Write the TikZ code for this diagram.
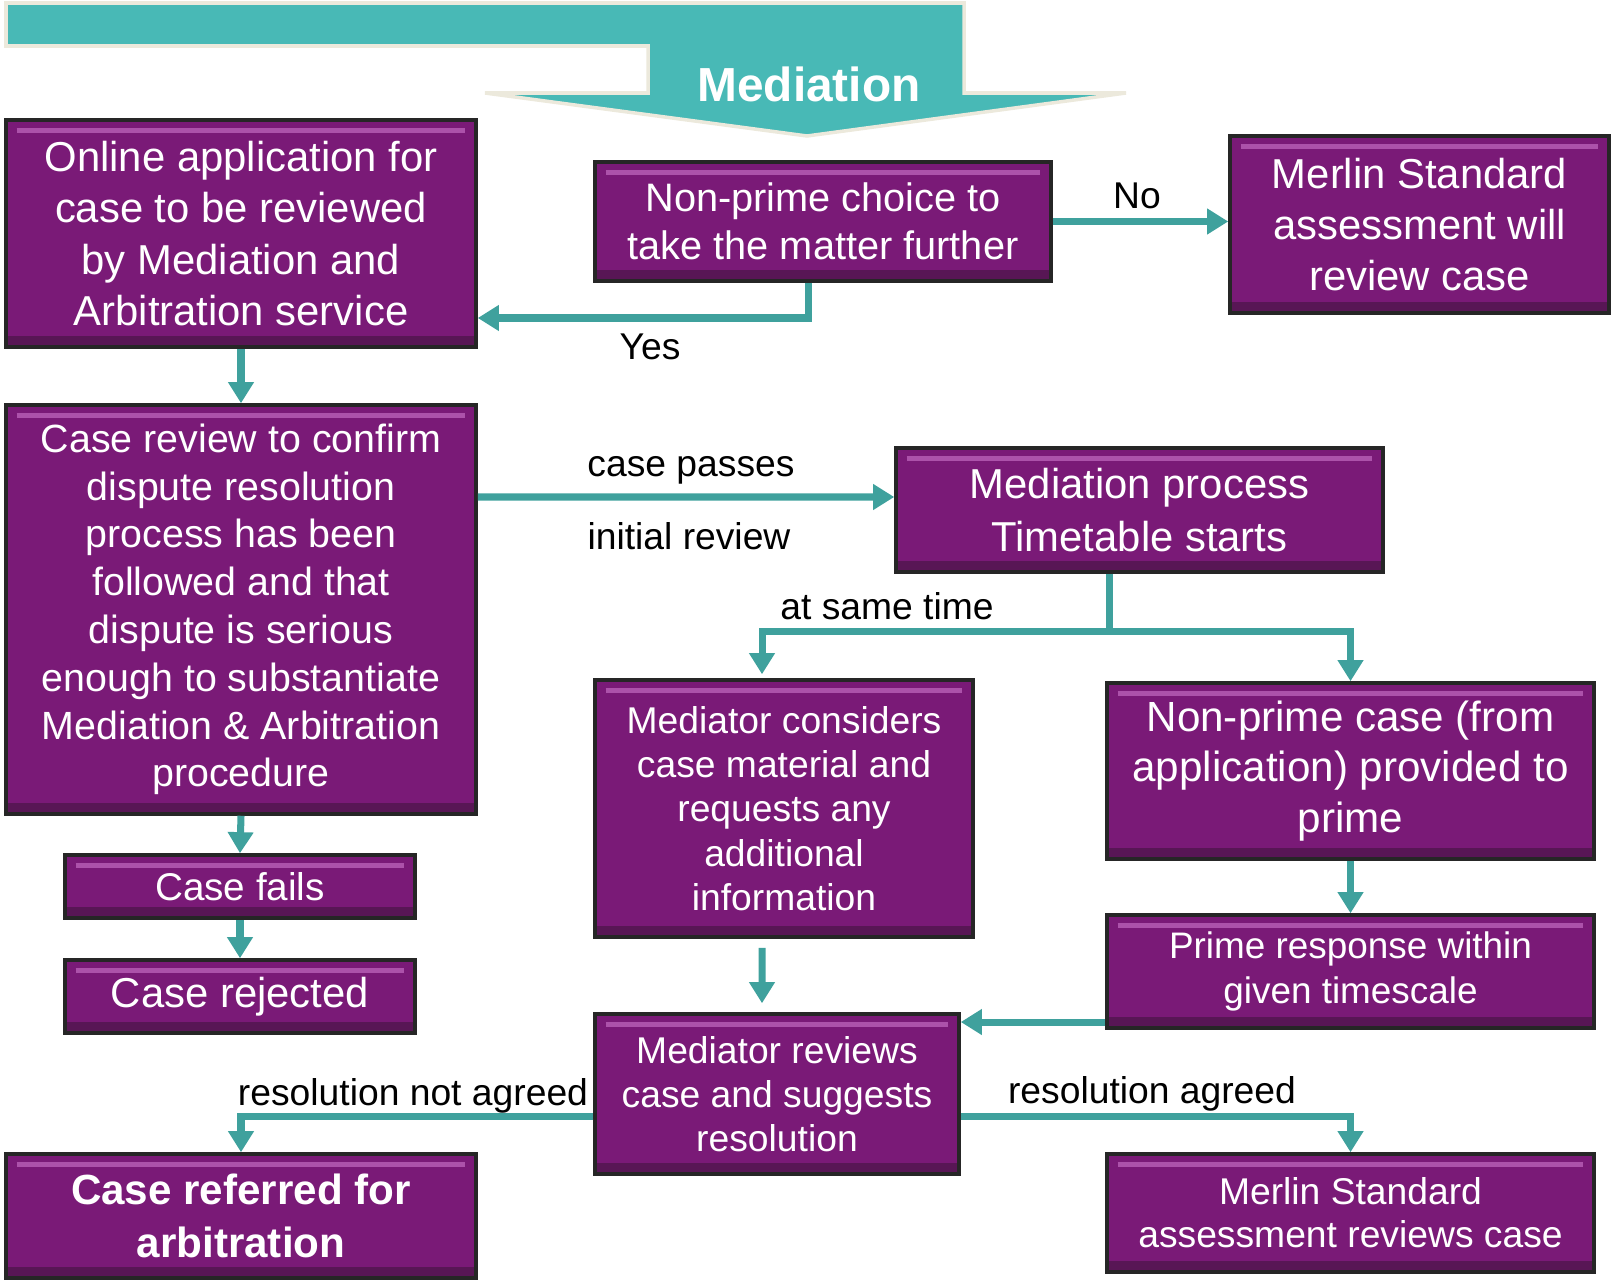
\documentclass[tikz,border=0pt]{standalone}
\usepackage{fontspec}
\setmainfont{Liberation Sans}
\usetikzlibrary{arrows.meta}
\definecolor{boxpurple}{RGB}{122,26,119}
\definecolor{boxlight}{RGB}{172,82,170}
\definecolor{boxdark}{RGB}{88,22,85}
\definecolor{arrowteal}{RGB}{63,161,157}
\definecolor{bannerteal}{RGB}{72,185,182}
\definecolor{bannerrim}{RGB}{236,233,220}
\tikzstyle{stage}=[rectangle, draw=black!85, line width=1pt, fill=boxpurple, text=white, align=center, inner sep=2pt,
  path picture={
    \draw[boxlight, line width=1.5pt] ([shift={(3pt,-3pt)}]path picture bounding box.north west) -- ([shift={(-3pt,-3pt)}]path picture bounding box.north east);
    \fill[boxdark] (path picture bounding box.south west) rectangle ([yshift=3pt]path picture bounding box.south east);
  }]
\tikzstyle{flow}=[-{Triangle[width=7pt,length=6pt]}, draw=arrowteal, line width=2pt]
\tikzstyle{lbl}=[inner sep=0pt, text=black, font=\fontsize{10.6}{12.6}\selectfont]
\tikzstyle{title}=[inner sep=0pt, text=white, font=\bfseries\fontsize{13.6}{16}\selectfont]

\begin{document}
\begin{tikzpicture}
				\useasboundingbox (0,0) rectangle (16.12,-12.82);

				%The banner arrow
				\draw[fill=bannerteal, draw=bannerrim, line width=1pt] (0.06,-0.03) -- (9.64,-0.03) -- (9.64,-0.93) -- (11.26,-0.93) -- (8.07,-1.36) -- (4.85,-0.93) -- (6.48,-0.93) -- (6.48,-0.46) -- (0.06,-0.46) -- cycle;
				\draw (8.09,-0.84) node[title] (banner) {Mediation};

				%The first row
				\draw (2.41,-2.335) node[stage, minimum width=4.70cm, minimum height=2.27cm, font=\fontsize{11.9}{14.6}\selectfont] (online) {Online application for\\case to be reviewed\\by Mediation and\\Arbitration service};
				\draw (8.23,-2.215) node[stage, minimum width=4.56cm, minimum height=1.19cm, font=\fontsize{11.3}{13.7}\selectfont] (nonprime) {Non-prime choice to\\take the matter further};
				\draw (14.195,-2.245) node[stage, minimum width=3.79cm, minimum height=1.77cm, font=\fontsize{11.9}{14.4}\selectfont] (merlin1) {Merlin Standard\\assessment will\\review case};

				%The review column
				\draw (2.41,-6.095) node[stage, minimum width=4.70cm, minimum height=4.09cm, font=\fontsize{11.2}{13.6}\selectfont] (review) {Case review to confirm\\dispute resolution\\process has been\\followed and that\\dispute is serious\\enough to substantiate\\Mediation \& Arbitration\\procedure};
				\draw (2.40,-8.865) node[stage, minimum width=3.50cm, minimum height=0.63cm, font=\fontsize{11.0}{13}\selectfont] (fails) {Case fails};
				\draw (2.40,-9.965) node[stage, minimum width=3.50cm, minimum height=0.73cm, font=\fontsize{11.9}{14}\selectfont] (rejected) {Case rejected};

				%The mediation timetable
				\draw (11.395,-5.10) node[stage, minimum width=4.87cm, minimum height=1.24cm, font=\fontsize{11.9}{14.9}\selectfont] (medproc) {Mediation process\\Timetable starts};
				\draw (7.84,-8.085) node[stage, minimum width=3.78cm, minimum height=2.57cm, font=\fontsize{10.6}{12.6}\selectfont] (considers) {Mediator considers\\case material and\\requests any\\additional\\information};
				\draw (13.505,-7.71) node[stage, minimum width=4.87cm, minimum height=1.76cm, font=\fontsize{12.0}{14.3}\selectfont] (npcase) {Non-prime case (from\\application) provided to\\prime};
				\draw (13.505,-9.715) node[stage, minimum width=4.87cm, minimum height=1.13cm, font=\fontsize{10.5}{12.9}\selectfont] (primeresp) {Prime response within\\given timescale};
				\draw (7.77,-10.94) node[stage, minimum width=3.64cm, minimum height=1.60cm, font=\fontsize{10.6}{12.5}\selectfont] (medreviews) {Mediator reviews\\case and suggests\\resolution};

				%The outcomes
				\draw (2.41,-12.16) node[stage, minimum width=4.70cm, minimum height=1.24cm, font=\bfseries\fontsize{12.0}{15.2}\selectfont] (referred) {Case referred for\\arbitration};
				\draw (13.505,-12.13) node[stage, minimum width=4.87cm, minimum height=1.18cm, font=\fontsize{10.6}{12.2}\selectfont] (merlin2) {Merlin Standard\\assessment reviews case};

				%The connectors
				\draw[flow] ([xshift=-0.15cm]nonprime.south) |- ([yshift=-0.845cm]online.east);
				\draw[flow] (nonprime.east) -- (merlin1.west |- nonprime.east);
				\draw[flow] (online.south) -- (review.north);
				\draw[flow] ([yshift=1.125cm]review.east) -- ([yshift=0.13cm]medproc.west);
				\draw[flow] (review.south) -- (fails.north);
				\draw[flow] (fails.south) -- (rejected.north);
				\draw[flow, -] ([xshift=-0.305cm]medproc.south) -- ++(0,-0.58) coordinate (split);
				\draw[flow, shorten >=0.04cm] (split) -| ([xshift=-0.22cm]considers.north);
				\draw[flow] (split) -| (npcase.north);
				\draw[flow, shorten <=0.09cm, shorten >=0.09cm] ([xshift=-0.22cm]considers.south) -- ([xshift=-0.15cm]medreviews.north);
				\draw[flow] (npcase.south) -- (primeresp.north);
				\draw[flow] ([yshift=-0.505cm]primeresp.west) -- ([yshift=0.72cm]medreviews.east);
				\draw[flow] ([yshift=-0.22cm]medreviews.west) -| (referred.north);
				\draw[flow] ([yshift=-0.22cm]medreviews.east) -| (merlin2.north);

				%The connector labels
				\draw (6.50,-3.47) node[lbl] (yes) {Yes};
				\draw (11.37,-1.96) node[lbl] (no) {No};
				\draw (6.91,-4.70) node[lbl] (passes) {case passes};
				\draw (6.89,-5.36) node[lbl] (initial) {initial review};
				\draw (8.87,-6.06) node[lbl] (sametime) {at same time};
				\draw (4.13,-10.96) node[lbl] (notagreed) {resolution not agreed};
				\draw (11.52,-10.94) node[lbl] (agreed) {resolution agreed};
			\end{tikzpicture}
\end{document}
